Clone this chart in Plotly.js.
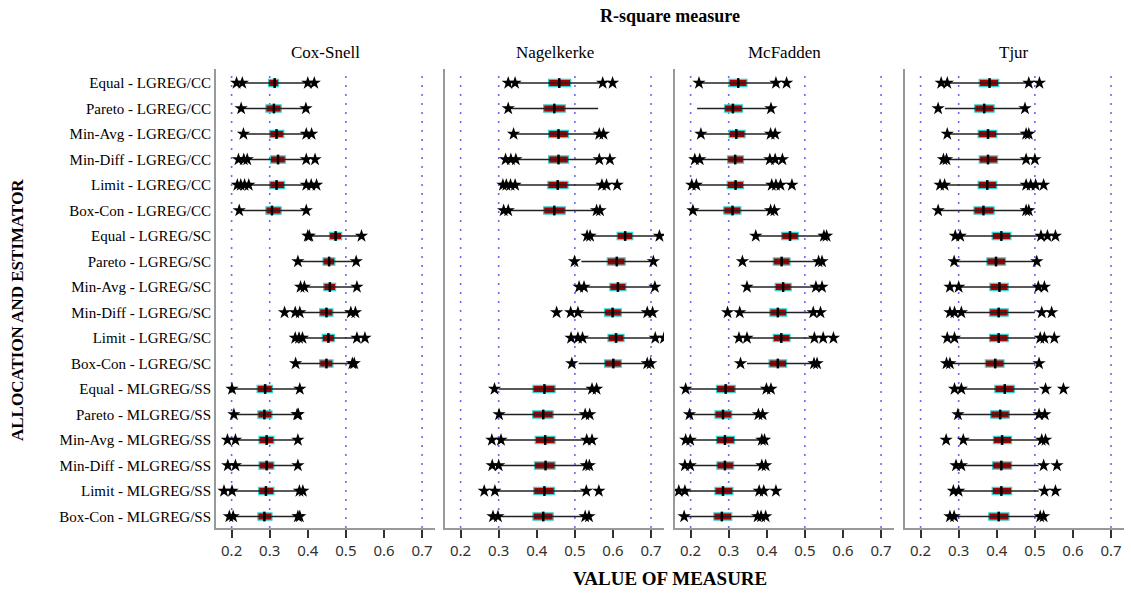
<!DOCTYPE html>
<html><head><meta charset="utf-8">
<script src="https://cdn.plot.ly/plotly-3.0.1.min.js"></script>
<style>html,body{margin:0;padding:0;background:#fff}</style>
</head><body><div id="chart" style="width:1131px;height:596px"></div>
<script>
const rowLabels = ["Equal - LGREG/CC","Pareto - LGREG/CC","Min-Avg - LGREG/CC","Min-Diff - LGREG/CC","Limit - LGREG/CC","Box-Con - LGREG/CC",
  "Equal - LGREG/SC","Pareto - LGREG/SC","Min-Avg - LGREG/SC","Min-Diff - LGREG/SC","Limit - LGREG/SC","Box-Con - LGREG/SC",
  "Equal - MLGREG/SS","Pareto - MLGREG/SS","Min-Avg - MLGREG/SS","Min-Diff - MLGREG/SS","Limit - MLGREG/SS","Box-Con - MLGREG/SS"];
const measures = ["Cox-Snell","Nagelkerke","McFadden","Tjur"];
const tickVals = [0.2,0.3,0.4,0.5,0.6,0.7];
const refLines = [0.2,0.3,0.5,0.7];

// Cox-Snell
const csQ1  = [0.297,0.290,0.300,0.302,0.300,0.290,0.457,0.440,0.442,0.431,0.438,0.431,0.267,0.269,0.272,0.272,0.271,0.269];
const csMed = [0.313,0.311,0.318,0.322,0.318,0.306,0.473,0.456,0.458,0.449,0.454,0.449,0.288,0.286,0.292,0.292,0.290,0.286];
const csQ3  = [0.323,0.330,0.337,0.341,0.339,0.330,0.489,0.471,0.473,0.466,0.470,0.466,0.307,0.306,0.311,0.311,0.311,0.306];
const csLo  = [0.229,0.226,0.231,0.241,0.245,0.220,0.400,0.376,0.391,0.379,0.386,0.370,0.201,0.206,0.210,0.210,0.201,0.204];
const csHi  = [0.400,0.395,0.396,0.396,0.396,0.396,0.541,0.527,0.529,0.513,0.529,0.517,0.379,0.372,0.374,0.374,0.378,0.374];
const csOut = [[0.213,0.228,0.400,0.417],[0.225,0.395],[0.231,0.396,0.410],[0.218,0.232,0.241,0.396,0.419],
  [0.215,0.224,0.234,0.245,0.396,0.409,0.423],[0.220,0.396],[0.400,0.404,0.541],[0.374,0.527],[0.381,0.391,0.529],
  [0.339,0.367,0.379,0.513,0.525],[0.367,0.377,0.386,0.529,0.550],[0.368,0.517,0.522],[0.201,0.379],[0.206,0.372,0.375],
  [0.189,0.210,0.374],[0.190,0.210,0.374],[0.180,0.201,0.378,0.387],[0.194,0.204,0.374,0.379]];

// Nagelkerke
const nkQ1  = [0.431,0.418,0.431,0.431,0.429,0.418,0.611,0.585,0.592,0.578,0.587,0.578,0.390,0.389,0.396,0.394,0.392,0.390];
const nkMed = [0.459,0.446,0.457,0.457,0.455,0.446,0.632,0.610,0.613,0.599,0.608,0.601,0.420,0.417,0.422,0.423,0.420,0.417];
const nkQ3  = [0.489,0.475,0.483,0.483,0.482,0.475,0.652,0.632,0.634,0.622,0.629,0.622,0.448,0.443,0.448,0.448,0.446,0.443];
const nkLo  = [0.343,0.325,0.339,0.345,0.343,0.325,0.540,0.517,0.524,0.508,0.520,0.510,0.300,0.301,0.306,0.300,0.290,0.298];
const nkHi  = [0.573,0.561,0.564,0.564,0.571,0.557,0.722,0.706,0.710,0.690,0.711,0.690,0.545,0.527,0.531,0.530,0.530,0.527];
const nkOut = [[0.325,0.343,0.573,0.599],[0.325],[0.339,0.564,0.575],[0.318,0.332,0.345,0.564,0.592],
  [0.311,0.320,0.331,0.343,0.571,0.583,0.611],[0.313,0.325,0.557,0.566],[0.532,0.540,0.722],[0.499,0.706],[0.511,0.524,0.710],
  [0.452,0.489,0.508,0.690,0.704],[0.490,0.508,0.520,0.711,0.734],[0.492,0.690,0.699],[0.289,0.545,0.557],[0.301,0.527,0.539],
  [0.282,0.306,0.531,0.545],[0.283,0.300,0.530,0.538],[0.262,0.290,0.530,0.563],[0.285,0.298,0.527,0.537]];

// McFadden
const mfQ1  = [0.301,0.289,0.301,0.297,0.296,0.287,0.439,0.417,0.422,0.408,0.417,0.406,0.268,0.264,0.268,0.269,0.264,0.261];
const mfMed = [0.325,0.311,0.320,0.317,0.318,0.310,0.461,0.439,0.443,0.429,0.438,0.429,0.292,0.285,0.290,0.290,0.285,0.282];
const mfQ3  = [0.348,0.336,0.343,0.339,0.339,0.332,0.483,0.461,0.464,0.452,0.461,0.452,0.317,0.308,0.315,0.313,0.311,0.308];
const mfLo  = [0.222,0.217,0.227,0.224,0.215,0.206,0.371,0.354,0.348,0.329,0.348,0.348,0.187,0.197,0.199,0.199,0.185,0.183];
const mfHi  = [0.424,0.411,0.410,0.408,0.413,0.410,0.550,0.536,0.529,0.522,0.525,0.524,0.399,0.378,0.387,0.387,0.380,0.376];
const mfOut = [[0.222,0.424,0.452],[0.411],[0.227,0.410,0.422],[0.211,0.224,0.408,0.422,0.441],
  [0.203,0.215,0.413,0.424,0.436,0.466],[0.206,0.410,0.420],[0.371,0.550,0.557],[0.336,0.536,0.545],[0.348,0.529,0.545],
  [0.297,0.329,0.522,0.541],[0.327,0.348,0.525,0.548,0.575],[0.331,0.524,0.532],[0.187,0.399,0.411],[0.197,0.378,0.389],
  [0.187,0.199,0.387,0.394],[0.185,0.199,0.387,0.397],[0.169,0.185,0.380,0.392,0.424],[0.183,0.376,0.385,0.397]];

// Tjur
const tjQ1  = [0.354,0.342,0.351,0.354,0.351,0.340,0.388,0.374,0.382,0.381,0.381,0.370,0.395,0.384,0.391,0.389,0.388,0.379];
const tjMed = [0.381,0.367,0.377,0.377,0.375,0.365,0.412,0.398,0.407,0.405,0.405,0.396,0.421,0.409,0.414,0.412,0.412,0.405];
const tjQ3  = [0.405,0.393,0.400,0.402,0.400,0.393,0.437,0.423,0.430,0.430,0.430,0.419,0.446,0.433,0.439,0.439,0.439,0.432];
const tjLo  = [0.270,0.264,0.270,0.268,0.263,0.246,0.304,0.288,0.300,0.307,0.289,0.277,0.307,0.298,0.312,0.307,0.300,0.288];
const tjHi  = [0.484,0.474,0.477,0.477,0.477,0.477,0.516,0.505,0.509,0.500,0.500,0.500,0.510,0.511,0.518,0.510,0.510,0.514];
const tjOut = [[0.254,0.270,0.484,0.512],[0.246,0.474],[0.270,0.477,0.484],[0.260,0.268,0.477,0.500],
  [0.251,0.263,0.477,0.489,0.502,0.523],[0.246,0.477,0.484],[0.291,0.304,0.516,0.533,0.554],[0.288,0.505],[0.277,0.300,0.509,0.525],
  [0.277,0.289,0.307,0.518,0.544],[0.270,0.289,0.514,0.525,0.551],[0.268,0.277,0.511],[0.289,0.307,0.528,0.575],[0.298,0.511,0.526],
  [0.267,0.312,0.518,0.528],[0.293,0.307,0.523,0.558],[0.286,0.300,0.525,0.554],[0.277,0.288,0.514,0.523]];

const panels = [
  {q1:csQ1,med:csMed,q3:csQ3,lo:csLo,hi:csHi,out:csOut},
  {q1:nkQ1,med:nkMed,q3:nkQ3,lo:nkLo,hi:nkHi,out:nkOut},
  {q1:mfQ1,med:mfMed,q3:mfQ3,lo:mfLo,hi:mfHi,out:mfOut},
  {q1:tjQ1,med:tjMed,q3:tjQ3,lo:tjLo,hi:tjHi,out:tjOut}
];
const domains = [[0,0.2412],[0.2522,0.4934],[0.5055,0.7467],[0.7588,1]];
const rowIdx = rowLabels.map((_, i) => i);
const SERIF = "Liberation Serif, Times New Roman, serif";

const traces = [];
const layout = {
  width:1131, height:596,
  margin:{l:216, r:7, t:69, b:68},
  paper_bgcolor:"#fff", plot_bgcolor:"#fff",
  showlegend:false,
  title:{text:"<b>R-square measure</b>", xref:"paper", x:0.5, xanchor:"center", yref:"container", y:0.973, yanchor:"middle",
         font:{family:SERIF, size:18, color:"#000"}},
  shapes:[], annotations:[]
};

panels.forEach((p, k) => {
  const s = k === 0 ? "" : String(k + 1);
  const xa = "x" + s, ya = "y" + s;
  // whiskers
  const wx = [], wy = [];
  rowIdx.forEach(i => { wx.push(p.lo[i], p.hi[i], null); wy.push(i, i, null); });
  traces.push({type:"scatter", mode:"lines", x:wx, y:wy, xaxis:xa, yaxis:ya,
    line:{color:"#222", width:1.5}, hoverinfo:"skip"});
  // boxes
  traces.push({type:"bar", orientation:"h", base:p.q1, x:p.q3.map((v, i) => v - p.q1[i]), y:rowIdx,
    xaxis:xa, yaxis:ya, width:0.28,
    marker:{color:"#a50000", line:{color:"#35d0d0", width:1.2}}});
  // medians
  traces.push({type:"scatter", mode:"markers", x:p.med, y:rowIdx, xaxis:xa, yaxis:ya,
    marker:{symbol:"line-ns", size:7, line:{color:"#000", width:2.5}}});
  // outliers
  const ox = [], oy = [];
  p.out.forEach((arr, i) => arr.forEach(v => { ox.push(v); oy.push(i); }));
  traces.push({type:"scatter", mode:"markers", x:ox, y:oy, xaxis:xa, yaxis:ya,
    marker:{symbol:"star", size:10, color:"#000", line:{width:0}}});

  layout["xaxis" + s] = {domain:domains[k], anchor:ya, range:[0.159, 0.734],
    tickvals:tickVals, tickformat:".1f", ticks:"outside", ticklen:8, tickwidth:2, tickcolor:"#333",
    showline:true, linecolor:"#999", linewidth:2, showgrid:false, zeroline:false,
    tickfont:{family:"Noto Sans, DejaVu Sans, sans-serif", size:15, color:"#333"}, fixedrange:true};
  layout["yaxis" + s] = {domain:[0,1], anchor:xa, range:[17.45, -0.55],
    tickvals:rowIdx, ticktext:rowLabels, showticklabels:k === 0, ticks:"",
    showline:true, linecolor:"#999", linewidth:2, showgrid:false, zeroline:false,
    tickfont:{family:SERIF, size:15, color:"#000"}, fixedrange:true};

  refLines.forEach(v => layout.shapes.push({type:"line", xref:xa, yref:ya + " domain", x0:v, x1:v, y0:0, y1:1,
    layer:"below", line:{color:"#6a6af0", width:1.6, dash:"2px,7px"}}));

  layout.annotations.push({text:measures[k], xref:xa + " domain", x:0.5, xanchor:"center",
    yref:"paper", y:1, yanchor:"bottom", yshift:5, showarrow:false,
    font:{family:SERIF, size:17, color:"#000"}});
});

layout.annotations.push({text:"<b>VALUE OF MEASURE</b>", xref:"paper", x:0.5, xanchor:"center",
  yref:"paper", y:-0.109, yanchor:"middle", showarrow:false, font:{family:SERIF, size:19, color:"#000"}});
layout.annotations.push({text:"<b>ALLOCATION AND ESTIMATOR</b>", xref:"paper", x:-0.218, xanchor:"center",
  yref:"paper", y:0.475, yanchor:"middle", textangle:-90, showarrow:false, font:{family:SERIF, size:17, color:"#000"}});

Plotly.newPlot("chart", traces, layout, {displayModeBar:false, staticPlot:true});
</script></body></html>
